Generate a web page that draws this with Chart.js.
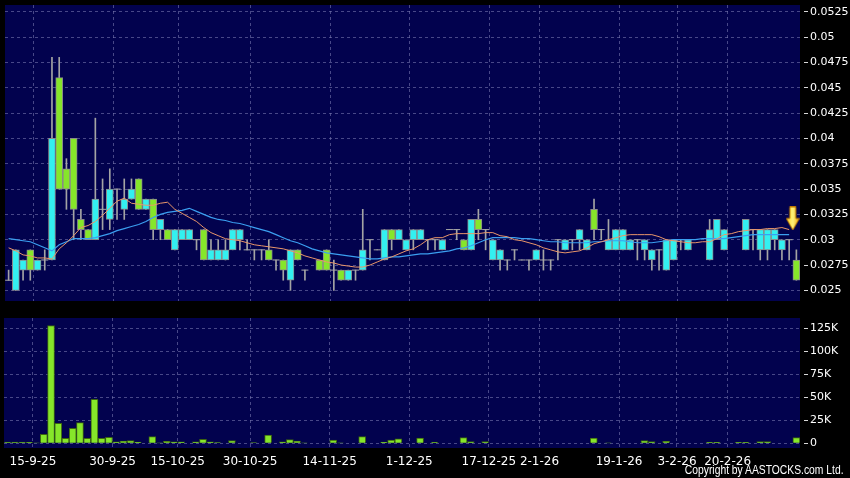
<!DOCTYPE html>
<html>
<head>
<meta charset="utf-8">
<script src="https://cdn.jsdelivr.net/npm/chart.js@4.4.1/dist/chart.umd.min.js"></script>
<style>
  body { margin: 0; background: #000; }
  #wrap { position: relative; width: 850px; height: 478px; background: #000; overflow: hidden; }
  canvas { position: absolute; left: 0; }
  #copy {
    position: absolute; right: 6px; top: 463px;
    font-family: "Liberation Sans Narrow", "Liberation Sans", sans-serif;
    font-size: 12px; color: #fff; white-space: nowrap;
    transform: scaleX(0.86); transform-origin: right top;
  }
</style>
</head>
<body>
<div id="wrap">
  <canvas id="priceChart" width="850" height="306" style="top:0"></canvas>
  <canvas id="volChart" width="850" height="168" style="top:310px"></canvas>
  <div id="copy">Copyright by AASTOCKS.com Ltd.</div>
</div>
<script>
// Trading-day slots (0 = first day on the chart), daily candles
const slots = [0,1,2,3,4,5,6,7,8,9,10,11,12,13,14,15,16,17,18,19,20,21,22,23,24,25,26,27,28,29,
  30,31,32,33,34,35,36,37,38,39,40,41,43,44,45,46,47,48,49,50,51,52,53,54,55,56,57,58,59,
  60,61,62,63,64,65,66,67,68,69,70,71,72,73,74,75,76,77,78,79,80,81,82,83,84,85,86,87,88,89,
  90,91,92,93,94,97,98,99,102,103,104,105,106,107,108,109];
const opens = [.026,.025,.027,.029,.027,.028,.028,.046,.037,.040,.032,.031,.030,.033,.032,.035,.033,.034,.036,.033,
  .034,.031,.031,.029,.030,.030,.030,.031,.028,.028,.028,.029,.030,.029,.029,.029,.029,.028,.028,.026,
  .029,.027,.028,.029,.027,.027,.026,.027,.027,.030,.029,.028,.031,.030,.029,.030,.030,.030,.030,
  .029,.031,.031,.030,.029,.032,.031,.028,.028,.028,.029,.028,.028,.028,.028,.028,.030,.029,.030,.030,.029,
  .033,.031,.029,.029,.029,.029,.030,.029,.028,.029,.027,.028,.030,.029,.028,.030,.029,.029,.031,.029,.029,
  .030,.029,.030,.028];
const highs = [.027,.029,.028,.029,.028,.029,.048,.048,.038,.040,.033,.031,.042,.036,.037,.035,.036,.036,.036,.034,
  .034,.032,.031,.031,.031,.031,.030,.031,.030,.030,.030,.031,.031,.030,.029,.029,.030,.028,.028,.029,
  .029,.027,.028,.029,.028,.027,.027,.027,.033,.030,.029,.031,.031,.031,.030,.031,.031,.030,.030,
  .030,.031,.031,.030,.032,.033,.031,.030,.029,.028,.029,.028,.028,.029,.029,.028,.030,.030,.030,.031,.030,
  .034,.031,.032,.031,.031,.030,.030,.030,.029,.029,.030,.030,.030,.030,.032,.032,.031,.032,.031,.031,.031,
  .031,.030,.030,.029];
const lows = [.026,.025,.026,.026,.027,.027,.028,.035,.033,.030,.030,.030,.030,.031,.031,.032,.032,.034,.033,.033,
  .030,.030,.030,.029,.030,.030,.029,.028,.028,.028,.028,.029,.029,.029,.028,.028,.028,.027,.026,.025,
  .028,.026,.027,.027,.025,.026,.026,.026,.027,.028,.029,.028,.029,.030,.029,.029,.030,.029,.029,
  .029,.031,.030,.029,.029,.030,.029,.028,.027,.027,.028,.028,.027,.028,.027,.027,.028,.029,.029,.029,.029,
  .030,.030,.029,.029,.029,.029,.028,.028,.027,.027,.027,.028,.029,.029,.028,.030,.029,.029,.029,.028,.028,
  .029,.028,.028,.026];
const closes = [.026,.029,.028,.027,.028,.028,.040,.035,.035,.033,.031,.030,.034,.033,.035,.035,.034,.035,.033,.034,
  .031,.032,.030,.031,.031,.031,.030,.028,.029,.029,.029,.031,.031,.029,.029,.029,.028,.028,.027,.029,
  .028,.027,.027,.027,.027,.026,.027,.027,.029,.030,.029,.031,.030,.031,.030,.031,.031,.030,.030,
  .030,.031,.031,.029,.032,.031,.031,.030,.029,.028,.029,.028,.028,.029,.028,.028,.030,.030,.030,.031,.030,
  .031,.031,.030,.031,.031,.030,.030,.030,.029,.029,.030,.030,.030,.030,.031,.032,.031,.032,.031,.031,.031,
  .031,.030,.030,.026];

// Moving averages, one value per slot 0..108
const maShort = [.0292,.0289,.0285,.0284,.0282,.0282,.0281,.0291,.0297,.0304,.0312,.0314,.0318,.0324,.0331,.0338,.0341,.0336,.0335,.0334,
  .0334,.0336,.0337,.0330,.0326,.0322,.0318,.0312,.0307,.0304,.0301,.0300,.0299,.0297,.0295,.0294,.0293,.0292,.0291,.0289,
  .0287,.0284,.0282,.0280,.0278,.0277,.0275,.0274,.0273,.0273,.0275,.0278,.0281,.0283,.0286,.0289,.0291,.0295,.0300,.0302,
  .0302,.0305,.0306,.0306,.0306,.0306,.0307,.0307,.0304,.0303,.0300,.0299,.0297,.0295,.0292,.0290,.0288,.0287,.0288,.0289,
  .0292,.0296,.0298,.0300,.0302,.0304,.0305,.0305,.0305,.0305,.0303,.0300,.0299,.0298,.0297,.0297,.0298,.0298,.0301,.0305,
  .0306,.0308,.0309,.0310,.0310,.0311,.0311,.0312,.0310];
const maLong = [.0301,.0300,.0299,.0298,.0295,.0292,.0289,.0295,.0298,.0301,.0301,.0301,.0302,.0304,.0306,.0309,.0311,.0313,.0315,.0318,
  .0322,.0325,.0327,.0328,.0329,.0331,.0328,.0325,.0322,.0320,.0319,.0317,.0316,.0314,.0312,.0310,.0308,.0305,.0302,.0299,
  .0297,.0294,.0291,.0289,.0287,.0286,.0285,.0284,.0283,.0282,.0281,.0281,.0282,.0283,.0283,.0284,.0285,.0286,.0286,.0287,
  .0288,.0289,.0291,.0292,.0294,.0297,.0300,.0302,.0302,.0302,.0302,.0301,.0301,.0300,.0299,.0298,.0298,.0297,.0297,.0297,
  .0297,.0298,.0298,.0299,.0299,.0299,.0298,.0297,.0297,.0297,.0298,.0299,.0300,.0300,.0300,.0300,.0301,.0301,.0301,.0301,
  .0302,.0303,.0304,.0305,.0305,.0305,.0305,.0305,.0305];

// Volume (shares)
const volSlots = [0,1,2,3,4,5,6,7,8,9,10,11,12,13,14,15,16,17,18,20,21,22,23,24,26,27,28,29,31,34,36,38,39,40,41,45,46,49,
  52,53,54,57,59,63,64,66,81,83,88,89,91,97,98,101,102,104,105,109];
const volumes = [1200,1300,1200,1000,300,9800,128000,21700,5400,16300,22500,5400,47800,5400,6500,1500,2500,2900,1400,7200,500,2200,1500,1500,
  1500,4300,1500,800,2900,700,9000,1500,4000,2500,300,3600,400,7200,1400,3600,5000,5800,1000,6200,1800,1800,5800,400,2900,1800,2200,
  1000,1000,1000,1000,1800,1800,6200];

// Axis ticks
const dateTickSlots = [3.5, 14.5, 23.5, 33.5, 44.5, 55.5, 66.5, 73.5, 84.5, 92.5, 99.5];
const dateTickLabels = ["15-9-25", "30-9-25", "15-10-25", "30-10-25", "14-11-25", "1-12-25", "17-12-25", "2-1-26", "19-1-26", "3-2-26", "20-2-26"];
const priceTicks = [0.025, 0.0275, 0.03, 0.0325, 0.035, 0.0375, 0.04, 0.0425, 0.045, 0.0475, 0.05, 0.0525];
const volTicks = [0, 25000, 50000, 75000, 100000, 125000];

// Marker arrow position
const arrowSlot = 108.5;
const arrowPrice = 0.0321;

const NAVY = "#02024e";
const GRID = "rgba(120,120,175,0.6)";
const CYAN = "#33f0f0";
const LIME = "#86e62a";

// paint the plot area navy
const navyBg = {
  id: "navyBg",
  beforeDraw(chart) {
    const a = chart.chartArea;
    chart.ctx.save();
    chart.ctx.fillStyle = NAVY;
    chart.ctx.fillRect(a.left, a.top, a.right - a.left, a.bottom - a.top);
    chart.ctx.restore();
  }
};

function makeArrow() {
  const c = document.createElement("canvas");
  c.width = 14;
  c.height = 24;
  const g = c.getContext("2d");
  const grad = g.createLinearGradient(0, 0, 14, 0);
  grad.addColorStop(0, "#ffd21e");
  grad.addColorStop(0.5, "#fff27a");
  grad.addColorStop(1, "#f0a400");
  g.fillStyle = grad;
  g.strokeStyle = "#c07800";
  g.lineWidth = 1;
  g.beginPath();
  g.moveTo(4, 0.5); g.lineTo(10, 0.5); g.lineTo(10, 12); g.lineTo(13.5, 12);
  g.lineTo(7, 23.5); g.lineTo(0.5, 12); g.lineTo(4, 12); g.closePath();
  g.fill();
  g.stroke();
  return c;
}

function xScale(showLabels) {
  return {
    type: "linear",
    min: -0.5,
    max: 109.5,
    offset: false,
    afterBuildTicks: s => { s.ticks = dateTickSlots.map(v => ({ value: v })); },
    afterFit: s => {
      s.height = showLabels ? 30 : 0;
      s.paddingLeft = 0;
      s.paddingRight = 0;
    },
    grid: { color: GRID, drawTicks: false, offset: false },
    border: { display: false, dash: [3, 3] },
    ticks: {
      display: showLabels,
      autoSkip: false,
      maxRotation: 0,
      padding: 7,
      color: "#fff",
      font: { family: "DejaVu Sans", size: 12 },
      callback: v => dateTickLabels[dateTickSlots.indexOf(v)]
    }
  };
}

function yScale(min, max, ticks, fmt) {
  return {
    position: "right",
    min: min,
    max: max,
    afterBuildTicks: s => { s.ticks = ticks.map(v => ({ value: v })); },
    afterFit: s => {
      s.width = 50;
      s.paddingTop = 0;
      s.paddingBottom = 0;
    },
    grid: { color: GRID, tickColor: "#d8d8d8", tickLength: 8, tickBorderDash: [0, 4, 4] },
    border: { display: false, dash: [3, 3] },
    ticks: {
      padding: 2,
      color: "#fff",
      font: { family: "DejaVu Sans", size: 11 },
      callback: fmt
    }
  };
}

// split candles into bodies and flat (doji) days
const bodies = [];
const dojis = [];
const wicks = [];
for (let i = 0; i < slots.length; i++) {
  wicks.push({ x: slots[i], y: [lows[i], highs[i]] });
  if (opens[i] === closes[i]) {
    dojis.push({ x: slots[i], y: closes[i] });
  } else {
    bodies.push({ x: slots[i], y: [opens[i], closes[i]], up: closes[i] > opens[i] });
  }
}

new Chart(document.getElementById("priceChart"), {
  type: "bar",
  data: {
    datasets: [
      {
        type: "line",
        data: [{ x: arrowSlot, y: arrowPrice }],
        showLine: false,
        pointStyle: makeArrow(),
        order: -1
      },
      {
        type: "line",
        data: maShort.map((v, i) => ({ x: i, y: v })),
        borderColor: "#e9966a",
        borderWidth: 1,
        pointRadius: 0,
        tension: 0,
        order: 0
      },
      {
        type: "line",
        data: maLong.map((v, i) => ({ x: i, y: v })),
        borderColor: "#3b9ff0",
        borderWidth: 1.2,
        pointRadius: 0,
        tension: 0,
        order: 1
      },
      {
        type: "bar",
        data: bodies,
        backgroundColor: ctx => (ctx.raw && ctx.raw.up ? CYAN : LIME),
        borderColor: "#8a8a8a",
        borderWidth: 1,
        borderSkipped: false,
        barThickness: 7,
        grouped: false,
        order: 2
      },
      {
        type: "line",
        data: dojis,
        showLine: false,
        pointStyle: "line",
        pointRadius: 3.5,
        pointBorderColor: "#a8a8a8",
        pointBorderWidth: 1,
        order: 3
      },
      {
        type: "bar",
        data: wicks,
        backgroundColor: "#a4a4a4",
        barThickness: 1,
        grouped: false,
        order: 4
      }
    ]
  },
  options: {
    responsive: false,
    animation: false,
    devicePixelRatio: 1,
    layout: { padding: { left: 4, top: 0, right: 0, bottom: 1 } },
    plugins: { legend: { display: false }, tooltip: { enabled: false } },
    scales: {
      x: xScale(false),
      y: yScale(0.02395, 0.05317, priceTicks, v => String(+v.toFixed(4)))
    }
  },
  plugins: [navyBg]
});

new Chart(document.getElementById("volChart"), {
  type: "bar",
  data: {
    datasets: [
      {
        data: volSlots.map((s, i) => ({ x: s, y: volumes[i] })),
        backgroundColor: LIME,
        borderColor: "#3c6410",
        borderWidth: 1,
        barThickness: 7
      }
    ]
  },
  options: {
    responsive: false,
    animation: false,
    devicePixelRatio: 1,
    layout: { padding: { left: 4, top: 8, right: 0, bottom: 0 } },
    plugins: { legend: { display: false }, tooltip: { enabled: false } },
    scales: {
      x: xScale(true),
      y: yScale(-5100, 136200, volTicks, v => (v === 0 ? "0" : v / 1000 + "K"))
    }
  },
  plugins: [navyBg]
});
</script>
</body>
</html>
